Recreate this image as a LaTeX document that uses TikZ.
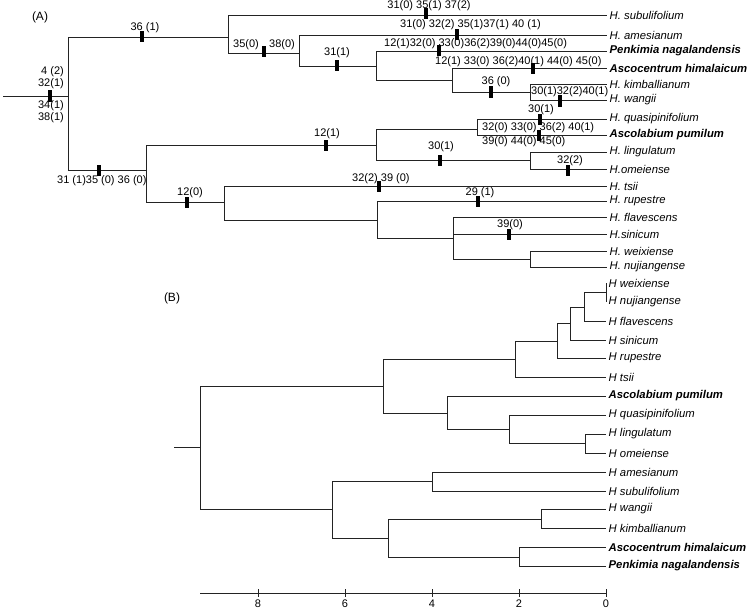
\documentclass[tikz,border=0pt]{standalone}
\usepackage{fontspec}
\setmainfont{Liberation Sans}
\usepackage{tikz}
\definecolor{branchgrey}{RGB}{35,35,35}

\begin{document}
\begin{tikzpicture}[
    x=1pt, y=-1pt,
    branch/.style={draw=branchgrey, line width=0.9pt},
    leaf/.style={anchor=west, inner sep=2.5pt, font=\fontsize{11.3}{13}\selectfont\itshape},
    keyleaf/.style={leaf, font=\fontsize{11.3}{13}\selectfont\bfseries\itshape},
    chr/.style={inner sep=0pt, font=\fontsize{11}{13}\selectfont},
    panel/.style={font=\fontsize{12}{14}\selectfont},
    tickbar/.style={fill=black}
]
\useasboundingbox (0,0) rectangle (750,610);

% (A) tree with character states
\node[panel] (labA) at (40,17) {(A)};
\coordinate (rootA) at (3,96);
\coordinate (A0) at (68,96);
\coordinate (A1) at (228,37);
\coordinate (A2) at (299,53);
\coordinate (A3) at (376,66);
\coordinate (A4) at (452,80);
\coordinate (A5) at (530,92);
\coordinate (B1) at (146,170);
\coordinate (B2) at (376,145);
\coordinate (B3) at (224,202);
\coordinate (B4) at (477,129);
\coordinate (B5) at (530,160);
\coordinate (B6) at (377,220);
\coordinate (B7) at (453,238);
\coordinate (B8) at (530,259);

\node[leaf] (subA) at (607,15) {H. subulifolium};
\node[leaf] (ameA) at (607,35) {H. amesianum};
\node[keyleaf] (penA) at (607,51) {Penkimia nagalandensis};
\node[keyleaf] (ascA) at (607,68) {Ascocentrum himalaicum};
\node[leaf] (kimA) at (607,84) {H. kimballianum};
\node[leaf] (wanA) at (607,100) {H. wangii};
\node[leaf] (quaA) at (607,119) {H. quasipinifolium};
\node[keyleaf] (pumA) at (607,135) {Ascolabium pumilum};
\node[leaf] (linA) at (607,152) {H. lingulatum};
\node[leaf] (omeA) at (607,169) {H.omeiense};
\node[leaf] (tsiA) at (607,186) {H. tsii};
\node[leaf] (rupA) at (607,201) {H. rupestre};
\node[leaf] (flaA) at (607,217) {H. flavescens};
\node[leaf] (sinA) at (607,234) {H.sinicum};
\node[leaf] (weiA) at (607,251) {H. weixiense};
\node[leaf] (nujA) at (607,267) {H. nujiangense};

\draw[branch] (rootA) -- (A0);
\draw[branch] (A0) |- (A1);
\draw[branch] (A0) |- (B1);
\draw[branch] (A1) |- (subA.west);
\draw[branch] (A1) |- (A2);
\draw[branch] (A2) |- (ameA.west);
\draw[branch] (A2) |- (A3);
\draw[branch] (A3) |- (penA.west);
\draw[branch] (A3) |- (A4);
\draw[branch] (A4) |- (ascA.west);
\draw[branch] (A4) |- (A5);
\draw[branch] (A5) |- (kimA.west);
\draw[branch] (A5) |- (wanA.west);
\draw[branch] (B1) |- (B2);
\draw[branch] (B1) |- (B3);
\draw[branch] (B2) |- (B4);
\draw[branch] (B2) |- (B5);
\draw[branch] (B4) |- (quaA.west);
\draw[branch] (B4) |- (pumA.west);
\draw[branch] (B5) |- (linA.west);
\draw[branch] (B5) |- (omeA.west);
\draw[branch] (B3) |- (tsiA.west);
\draw[branch] (B3) |- (B6);
\draw[branch] (B6) |- (rupA.west);
\draw[branch] (B6) |- (B7);
\draw[branch] (B7) |- (flaA.west);
\draw[branch] (B7) |- (sinA.west);
\draw[branch] (B7) |- (B8);
\draw[branch] (B8) |- (weiA.west);
\draw[branch] (B8) |- (nujA.west);

% state changes
\foreach \x/\y in {50/96, 142/37, 426/14, 264/52, 457/35, 337/66, 439/51, 533/69,
    491/92, 560/101, 540/119, 539/135, 440/160, 568/170, 326/145, 99/170,
    187/202, 379/186, 478/201, 509/234}
  \fill[tickbar] (\x-1.6,\y-5.5) rectangle (\x+1.6,\y+5.5);

\node[chr, anchor=east] (c1) at (64,72) {4 (2)};
\node[chr, anchor=east] (c2) at (64,84) {32(1)};
\node[chr, anchor=east] (c3) at (64,106) {34(1)};
\node[chr, anchor=east] (c4) at (64,118) {38(1)};
\node[chr] (c5) at (145,28) {36 (1)};
\node[chr] (c6) at (429,6) {31(0) 35(1) 37(2)};
\node[chr, anchor=west] (c7) at (400,25) {31(0) 32(2) 35(1)37(1) 40 (1)};
\node[chr] (c8) at (246,45) {35(0)};
\node[chr] (c9) at (282,45) {38(0)};
\node[chr] (c10) at (337,53) {31(1)};
\node[chr, anchor=west] (c11) at (384,44) {12(1)32(0) 33(0)36(2)39(0)44(0)45(0)};
\node[chr, anchor=west] (c12) at (435,62) {12(1) 33(0) 36(2)40(1) 44(0) 45(0)};
\node[chr] (c13) at (496,82) {36 (0)};
\node[chr, anchor=west] (c14) at (531,92) {30(1)32(2)40(1)};
\node[chr] (c15) at (541,110) {30(1)};
\node[chr, anchor=west] (c16) at (482,128) {32(0) 33(0) 36(2) 40(1)};
\node[chr, anchor=west] (c17) at (482,142) {39(0) 44(0) 45(0)};
\node[chr] (c18) at (441,147) {30(1)};
\node[chr] (c19) at (570,161) {32(2)};
\node[chr] (c20) at (327,134) {12(1)};
\node[chr, anchor=west] (c21) at (57,181) {31 (1)35 (0) 36 (0)};
\node[chr] (c22) at (190,193) {12(0)};
\node[chr, anchor=west] (c23) at (352,179) {32(2) 39 (0)};
\node[chr] (c24) at (480,193) {29 (1)};
\node[chr] (c25) at (510,225) {39(0)};

% (B) distance tree
\node[panel] (labB) at (172,298) {(B)};
\coordinate (rootB) at (174,447);
\coordinate (C0) at (200,447);
\coordinate (C1) at (383,386);
\coordinate (C2) at (515,359);
\coordinate (C3) at (447,413);
\coordinate (C4) at (557,341);
\coordinate (C5) at (570,323);
\coordinate (C6) at (584,307);
\coordinate (C7) at (606,292);
\coordinate (C8) at (509,429);
\coordinate (C9) at (585,443);
\coordinate (C10) at (332,509);
\coordinate (C11) at (432,481);
\coordinate (C12) at (388,538);
\coordinate (C13) at (541,519);
\coordinate (C14) at (519,557);

\node[leaf] (weiB) at (606,283) {H weixiense};
\node[leaf] (nujB) at (606,302) {H nujiangense};
\node[leaf] (flaB) at (606,321) {H flavescens};
\node[leaf] (sinB) at (606,340) {H sinicum};
\node[leaf] (rupB) at (606,358) {H rupestre};
\node[leaf] (tsiB) at (606,377) {H tsii};
\node[keyleaf] (pumB) at (606,396) {Ascolabium pumilum};
\node[leaf] (quaB) at (606,415) {H quasipinifolium};
\node[leaf] (linB) at (606,434) {H lingulatum};
\node[leaf] (omeB) at (606,453) {H omeiense};
\node[leaf] (ameB) at (606,472) {H amesianum};
\node[leaf] (subB) at (606,491) {H subulifolium};
\node[leaf] (wanB) at (606,509) {H wangii};
\node[leaf] (kimB) at (606,528) {H kimballianum};
\node[keyleaf] (ascB) at (606,547) {Ascocentrum himalaicum};
\node[keyleaf] (penB) at (606,566) {Penkimia nagalandensis};

\draw[branch] (rootB) -- (C0);
\draw[branch] (C0) |- (C1);
\draw[branch] (C0) |- (C10);
\draw[branch] (C1) |- (C2);
\draw[branch] (C1) |- (C3);
\draw[branch] (C2) |- (C4);
\draw[branch] (C2) |- (tsiB.west);
\draw[branch] (C4) |- (C5);
\draw[branch] (C4) |- (rupB.west);
\draw[branch] (C5) |- (C6);
\draw[branch] (C5) |- (sinB.west);
\draw[branch] (C6) |- (C7);
\draw[branch] (C6) |- (flaB.west);
\draw[branch] (C7) |- (weiB.west);
\draw[branch] (C7) |- (nujB.west);
\draw[branch] (C3) |- (pumB.west);
\draw[branch] (C3) |- (C8);
\draw[branch] (C8) |- (quaB.west);
\draw[branch] (C8) |- (C9);
\draw[branch] (C9) |- (linB.west);
\draw[branch] (C9) |- (omeB.west);
\draw[branch] (C10) |- (C11);
\draw[branch] (C10) |- (C12);
\draw[branch] (C11) |- (ameB.west);
\draw[branch] (C11) |- (subB.west);
\draw[branch] (C12) |- (C13);
\draw[branch] (C12) |- (C14);
\draw[branch] (C13) |- (wanB.west);
\draw[branch] (C13) |- (kimB.west);
\draw[branch] (C14) |- (ascB.west);
\draw[branch] (C14) |- (penB.west);

% scale axis
\coordinate (ax0) at (200,593);
\coordinate (ax1) at (606,593);
\draw[branch] (ax0) -- (ax1);
\foreach \v/\x in {8/258, 6/345, 4/432, 2/519, 0/606} {
  \draw[branch] (\x,589) -- (\x,597);
  \node[chr] (t\v) at (\x,604) {\v};
}
\end{tikzpicture}
\end{document}
